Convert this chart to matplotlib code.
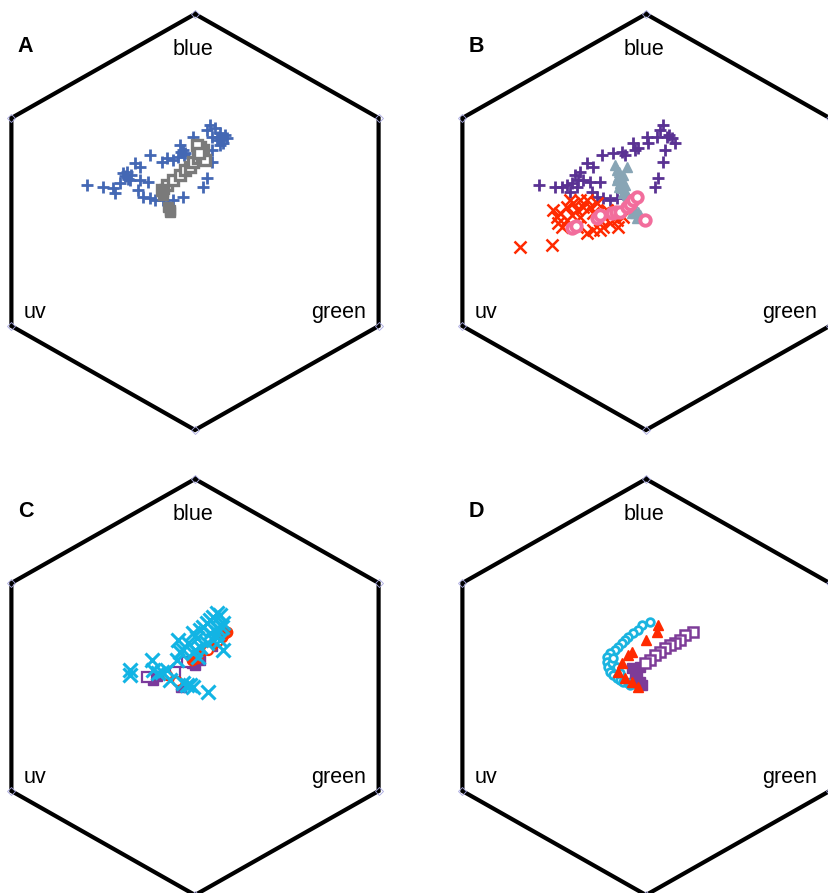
import matplotlib.pyplot as plt
import numpy as np

plt.rcParams['font.family'] = ['Liberation Sans', 'DejaVu Sans']

# hexagon coordinates (colour hexagon units)

# panel A
A_plus_x = [-0.511, -0.434, -0.387, -0.377, -0.354, -0.340, -0.321, -0.307, -0.283, -0.259,
            -0.259, -0.222, -0.212, -0.269, -0.245, -0.212, -0.189, -0.151, -0.104, -0.057,
            -0.156, -0.132, -0.104, -0.080, -0.071, -0.057, -0.047, -0.009, 0.009, 0.057,
            0.071, 0.080, 0.104, 0.118, 0.132, 0.151, 0.080, 0.080, 0.057, 0.038,
            -0.330, -0.300, -0.315, -0.065, -0.050, 0.110, 0.125, 0.140, 0.095, 0.120]
A_plus_y = [0.178, 0.168, 0.163, 0.139, 0.188, 0.236, 0.240, 0.202, 0.284, 0.264,
            0.202, 0.192, 0.322, 0.154, 0.120, 0.115, 0.106, 0.106, 0.106, 0.120,
            0.288, 0.308, 0.298, 0.313, 0.370, 0.346, 0.332, 0.409, 0.361, 0.442,
            0.466, 0.409, 0.394, 0.428, 0.380, 0.404, 0.346, 0.288, 0.212, 0.168,
            0.220, 0.225, 0.205, 0.335, 0.320, 0.410, 0.395, 0.420, 0.450, 0.370]
A_sq_x = [-0.156, -0.132, -0.104, -0.071, -0.047, -0.024, -0.009, 0.014,
          0.033, 0.038, 0.024, 0.009, 0.045, 0.020]
A_sq_y = [0.154, 0.178, 0.202, 0.226, 0.250, 0.264, 0.288, 0.308,
          0.322, 0.346, 0.361, 0.370, 0.300, 0.330]
A_sqfill_x = [-0.118, -0.127, -0.120, -0.150, -0.145]
A_sqfill_y = [0.048, 0.072, 0.060, 0.130, 0.160]

# panel B
B_plus_x = [-0.503, -0.429, -0.398, -0.374, -0.350, -0.335, -0.311, -0.280, -0.249, -0.296,
            -0.264, -0.217, -0.256, -0.233, -0.201, -0.170, -0.138, -0.209, -0.154, -0.115,
            -0.099, -0.060, -0.052, -0.036, 0.003, 0.011, 0.050, 0.082, 0.066, 0.098,
            0.121, 0.137, 0.090, 0.082, 0.058, 0.042, -0.327, -0.358, -0.320, 0.110]
B_plus_y = [0.178, 0.166, 0.166, 0.178, 0.186, 0.226, 0.242, 0.282, 0.266, 0.202,
            0.194, 0.194, 0.146, 0.122, 0.114, 0.106, 0.114, 0.322, 0.330, 0.338,
            0.322, 0.378, 0.346, 0.354, 0.410, 0.378, 0.410, 0.466, 0.442, 0.410,
            0.402, 0.378, 0.346, 0.290, 0.210, 0.167, 0.170, 0.146, 0.200, 0.420]
B_tri_x = [-0.146, -0.138, -0.131, -0.123, -0.115, -0.099, -0.083, -0.067, -0.060, -0.052,
           -0.044, -0.091, -0.107, -0.138, -0.028, -0.067, -0.125, -0.115, -0.100, -0.128,
           -0.110, -0.090, -0.075, -0.040]
B_tri_y = [0.274, 0.250, 0.218, 0.186, 0.162, 0.146, 0.122, 0.098, 0.074, 0.042,
           0.018, 0.266, 0.226, 0.202, 0.034, 0.042, 0.240, 0.200, 0.180, 0.170,
           0.140, 0.130, 0.110, 0.050]
B_circ_x = [-0.350, -0.330, -0.233, -0.217, -0.162, -0.142, -0.123, -0.091, -0.075, -0.060,
            -0.044, -0.005]
B_circ_y = [-0.030, -0.019, 0.018, 0.034, 0.042, 0.048, 0.050, 0.074, 0.087, 0.106,
            0.122, 0.010]
B_x_x = [-0.437, -0.421, -0.414, -0.398, -0.374, -0.358, -0.343, -0.327, -0.311, -0.296,
         -0.280, -0.264, -0.249, -0.217, -0.201, -0.170, -0.138, -0.107, -0.280, -0.249,
         -0.374, -0.350, -0.311, -0.233, -0.185, -0.154, -0.406, -0.327, -0.217, -0.131,
         -0.594, -0.445]
B_x_y = [0.058, 0.026, -0.006, -0.022, 0.074, 0.106, 0.090, 0.058, 0.026, 0.074,
         0.106, 0.074, 0.042, 0.010, -0.022, -0.006, 0.010, 0.026, -0.054, -0.038,
         0.010, 0.034, 0.106, 0.090, 0.058, 0.042, 0.042, -0.022, -0.038, -0.022,
         -0.119, -0.111]

# panel C
C_x_x = [-0.307, -0.307, -0.204, -0.197, -0.173, -0.157, -0.134, -0.118, -0.079, -0.071,
         -0.086, -0.055, -0.032, -0.008, 0.008, 0.024, 0.039, 0.055, 0.071, 0.086,
         0.102, 0.118, 0.071, 0.102, 0.134, 0.086, 0.055, 0.024, -0.008, -0.024,
         -0.008, -0.039, 0.063, -0.055, 0.102, 0.118, 0.126, 0.016, 0.000, 0.134]
C_x_y = [0.082, 0.058, 0.130, 0.082, 0.066, 0.074, 0.082, 0.034, 0.226, 0.170,
         0.130, 0.178, 0.210, 0.258, 0.234, 0.274, 0.290, 0.306, 0.322, 0.338,
         0.354, 0.346, 0.258, 0.282, 0.306, 0.226, 0.210, 0.194, 0.162, 0.010,
         0.002, 0.010, -0.022, 0.018, 0.258, 0.226, 0.290, 0.146, 0.178, 0.178]
C_dot_x = [-0.016, 0.000, 0.016, 0.039, 0.055, 0.079, 0.094, 0.110, 0.126, 0.142,
           0.150, 0.008]
C_dot_y = [0.130, 0.146, 0.162, 0.178, 0.186, 0.202, 0.218, 0.234, 0.242, 0.258,
           0.266, 0.138]
C_ring_x = [-0.086, -0.134, 0.060, 0.110]
C_ring_y = [0.030, 0.058, 0.180, 0.220]
C_sq_x = [-0.197, -0.179, -0.016, 0.000, 0.024, 0.080, -0.066]
C_sq_y = [0.034, 0.053, 0.114, 0.106, 0.130, 0.197, 0.002]
C_opensq_x = [-0.228, -0.094, -0.039]
C_opensq_y = [0.047, 0.074, 0.122]

# panel D
D_circ_x = [0.019, -0.020, -0.036, -0.060, -0.083, -0.099, -0.115, -0.131, -0.146, -0.170,
            -0.185, -0.185, -0.178, -0.170, -0.154, -0.138, -0.123, -0.107, -0.083, -0.075,
            -0.162, -0.154, -0.138, -0.123]
D_circ_y = [0.314, 0.298, 0.274, 0.258, 0.242, 0.226, 0.210, 0.194, 0.178, 0.162,
            0.146, 0.122, 0.098, 0.074, 0.058, 0.042, 0.034, 0.026, 0.018, 0.010,
            0.114, 0.138, 0.098, 0.066]
D_tri_x = [0.058, 0.050, 0.000, -0.068, -0.083, -0.115, -0.131, -0.099, -0.068, -0.036]
D_tri_y = [0.298, 0.266, 0.226, 0.170, 0.154, 0.114, 0.074, 0.042, 0.026, 0.002]
D_opensq_x = [0.223, 0.184, 0.160, 0.137, 0.113, 0.090, 0.066, 0.042, 0.019, -0.005]
D_opensq_y = [0.266, 0.250, 0.226, 0.210, 0.202, 0.186, 0.170, 0.154, 0.130, 0.114]
D_sq_x = [-0.028, -0.068, -0.044, -0.052, -0.028, -0.020, -0.060]
D_sq_y = [0.098, 0.090, 0.066, 0.042, 0.026, 0.010, 0.018]

vertex_labels = ["blue", "green", "uv"]
panel_letters = ["A", "B", "C", "D"]

W, H = 829, 893
PX_X, PX_Y = 212.0, 208.0   # pixels per hexagon unit
HALF = 235.0


def hexagon_axes(fig, cx, cy, letter):
    ax = fig.add_axes([(cx - HALF) / W, 1 - (cy + HALF) / H, 2 * HALF / W, 2 * HALF / H])
    ax.set_xlim(-HALF / PX_X, HALF / PX_X)
    ax.set_ylim(-HALF / PX_Y, HALF / PX_Y)
    ax.axis('off')
    ang = np.deg2rad(np.arange(90, 451, 60))
    hx, hy = np.cos(ang), np.sin(ang)
    ax.plot(hx, hy, color='black', lw=3, solid_joinstyle='miter', clip_on=False, zorder=1)
    ax.plot(hx[:-1], hy[:-1], ls='none', marker='D', ms=4, mfc='none', mec='#a8a8e0',
            mew=0.6, clip_on=False, zorder=2)
    ax.text(-0.01, 0.803, vertex_labels[0], fontsize=15.5, ha='center', va='baseline')
    ax.text(0.675, -0.462, vertex_labels[1], fontsize=15.5, ha='center', va='baseline')
    ax.text(-0.755, -0.462, vertex_labels[2], fontsize=15.5, ha='center', va='baseline')
    ax.text(-0.80, 0.817, letter, fontsize=15.5, fontweight='bold', ha='center', va='baseline')
    return ax


def main():
    fig = plt.figure(figsize=(W / 100, H / 100), dpi=100)

    axA = hexagon_axes(fig, 195, 222, panel_letters[0])
    axA.plot(A_plus_x, A_plus_y, ls='none', marker='+', ms=9, mew=2, color='#4468b4', zorder=3)
    axA.plot(A_sq_x, A_sq_y, ls='none', marker='s', ms=6.5, mfc='white', mec='#7a7a7a',
             mew=2.4, zorder=4)
    axA.plot(A_sqfill_x, A_sqfill_y, ls='none', marker='s', ms=7, color='#7a7a7a', zorder=4)

    axB = hexagon_axes(fig, 646, 222, panel_letters[1])
    axB.plot(B_plus_x, B_plus_y, ls='none', marker='+', ms=9, mew=2, color='#5a3293', zorder=3)
    axB.plot(B_tri_x, B_tri_y, ls='none', marker='^', ms=7.5, mfc='#88a5b5', mec='#88a5b5', zorder=4)
    axB.plot(B_x_x, B_x_y, ls='none', marker='x', ms=9, mew=1.8, color='#ff2a00', zorder=5)
    axB.plot(B_circ_x, B_circ_y, ls='none', marker='o', ms=7.5, mfc='white', mec='#f26d9c',
             mew=2.8, zorder=6)

    axC = hexagon_axes(fig, 195, 687, panel_letters[2])
    axC.plot(C_sq_x, C_sq_y, ls='none', marker='s', ms=7, color='#7b3a9c', zorder=3)
    axC.plot(C_opensq_x, C_opensq_y, ls='none', marker='s', ms=6.5, mfc='white',
             mec='#7b3a9c', mew=1.6, zorder=3)
    axC.plot(C_dot_x, C_dot_y, ls='none', marker='o', ms=7.5, color='#ff3000', zorder=4)
    axC.plot(C_ring_x, C_ring_y, ls='none', marker='o', ms=6.5, mfc='white', mec='#ff3000',
             mew=1.6, zorder=4)
    axC.plot(C_x_x, C_x_y, ls='none', marker='x', ms=10, mew=2.2, color='#12b4e4', zorder=5)

    axD = hexagon_axes(fig, 646, 687, panel_letters[3])
    axD.plot(D_sq_x, D_sq_y, ls='none', marker='s', ms=7, color='#7d3c98', zorder=3)
    axD.plot(D_opensq_x, D_opensq_y, ls='none', marker='s', ms=7, mfc='white',
             mec='#7d3c98', mew=1.8, zorder=3)
    axD.plot(D_circ_x, D_circ_y, ls='none', marker='o', ms=5.5, mfc='white', mec='#1ab4e0',
             mew=2, zorder=4)
    axD.plot(D_tri_x, D_tri_y, ls='none', marker='^', ms=7, color='#ff2a00', zorder=5)

    fig.savefig('out.png', dpi=100)


if __name__ == "__main__":
    main()
